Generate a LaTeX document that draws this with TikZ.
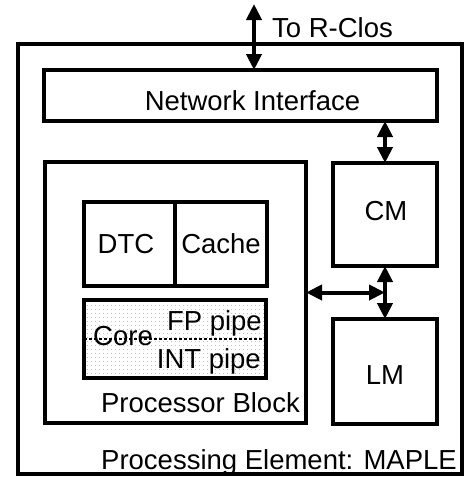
\documentclass[tikz,border=0pt]{standalone}
\usepackage{fontspec}
\setmainfont{Liberation Sans}
\usetikzlibrary{arrows.meta,patterns.meta}
\begin{document}
\begin{tikzpicture}[x=1pt,y=-1pt,
  box/.style={draw,line width=4.5pt,rectangle,inner sep=0pt,outer sep=0pt},
  lbl/.style={inner sep=0pt,font=\fontsize{27.5}{33}\selectfont},
  biarrow/.style={line width=4pt,{Triangle[width=15pt,length=16pt]}-{Triangle[width=15pt,length=16pt]}},
  sep/.style={dashed,line width=1.2pt,dash pattern=on 3pt off 2pt}]
\useasboundingbox (0,0) rectangle (467,477);
% boxes
\node[box,line width=4pt,minimum width=444pt,minimum height=429.5pt] (pe) at (240,258.75) {};
\node[box,minimum width=393pt,minimum height=51pt] (ni) at (240.5,95.5) {};
\node[box,minimum width=261pt,minimum height=261pt] (pb) at (175.5,292.5) {};
\node[box,minimum width=104pt,minimum height=103pt] (cm) at (385,214.5) {};
\node[box,minimum width=104pt,minimum height=105pt] (lm) at (385,371.5) {};
\node[box,minimum width=91pt,minimum height=84pt] (dtc) at (129.5,244) {};
\node[box,minimum width=92pt,minimum height=84pt] (cache) at (221,244) {};
\node[box,minimum width=182pt,minimum height=78pt,pattern={Dots[distance=4pt,radius=0.45pt]},pattern color=gray] (core) at (175,339) {};
\draw[sep] (core.west) -- (core.east);
% labels
\node[lbl,anchor=base west] (trc) at (272,37) {To R-Clos};
\node[lbl,anchor=base] (nil) at (252.5,110) {Network Interface};
\node[lbl,anchor=base] (cml) at (386,220) {CM};
\node[lbl,anchor=base] (lml) at (385,384) {LM};
\node[lbl,anchor=base] (dtcl) at (126,253) {DTC};
\node[lbl,anchor=base] (cachel) at (221,253) {Cache};
\node[lbl,anchor=base west] (corel) at (93,345) {Core};
\node[lbl,anchor=base east] (fpl) at (262,330) {FP pipe};
\node[lbl,anchor=base east] (intl) at (261,368) {INT pipe};
\node[lbl,anchor=base east] (pbl) at (300,412) {Processor Block};
\node[lbl,anchor=base east] (pel) at (457,469) {Processing Element: MAPLE};
% connectors
\coordinate (rclos) at (254,4);
\draw[biarrow] (rclos) -- (rclos |- ni.north);
\draw[biarrow] (cm.north |- ni.south) -- (cm.north);
\draw[biarrow] (cm.south) -- (lm.north);
\draw[biarrow] (pb.east) -- (pb.east -| lm.north);
\end{tikzpicture}
\end{document}
